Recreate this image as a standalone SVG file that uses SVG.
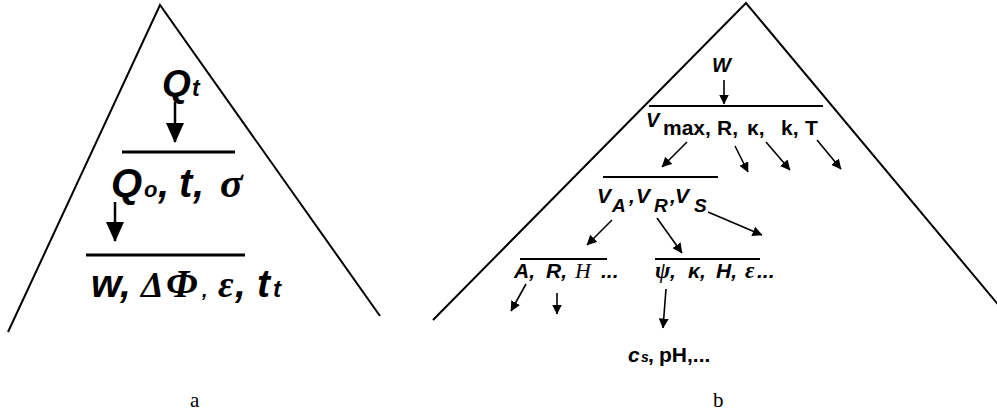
<svg xmlns="http://www.w3.org/2000/svg" width="997" height="416" viewBox="0 0 997 416">
<defs>
<style>
.ln{stroke:#000;fill:none;stroke-width:2}
.bar{stroke:#000;stroke-width:3}
.bar2{stroke:#000;stroke-width:2}
.big{stroke:#000;stroke-width:2.5;fill:none;marker-end:url(#hb)}
.sm{stroke:#000;stroke-width:1.6;fill:none;marker-end:url(#hs)}
.t{font-family:"Liberation Sans",Arial,sans-serif;font-weight:bold;font-style:italic;fill:#000}
.s{font-family:"Liberation Serif","Times New Roman",serif;font-style:italic;fill:#000}
.u{font-family:"Liberation Sans",Arial,sans-serif;font-weight:bold;fill:#000}
.cap{font-family:"Liberation Serif","Times New Roman",serif;font-size:21px;fill:#000}
</style>
<marker id="hb" viewBox="0 0 20 18" refX="19" refY="9" markerWidth="20" markerHeight="18" markerUnits="userSpaceOnUse" orient="auto">
<path d="M0,0 L20,9 L0,18 z" fill="#000"/>
</marker>
<marker id="hs" viewBox="0 0 10 10" refX="9.5" refY="5" markerWidth="10" markerHeight="10" markerUnits="userSpaceOnUse" orient="auto">
<path d="M0,0 L10,5 L0,10 z" fill="#000"/>
</marker>
</defs>
<rect width="997" height="416" fill="#fff"/>

<g id="triangleA">
<polyline class="ln" points="8,332 160,5 380,316"/>
</g>
<g id="triangleB">
<polyline class="ln" points="433,320 746,3 1001,308"/>
</g>

<g id="connectors">
<line class="big" x1="175" y1="102" x2="175" y2="142"/>
<line class="big" x1="115" y1="202" x2="115" y2="241"/>
<line class="sm" x1="724" y1="80" x2="724" y2="104"/>
<line class="sm" x1="687" y1="142" x2="662" y2="167"/>
<line class="sm" x1="735" y1="146" x2="748" y2="172"/>
<line class="sm" x1="766" y1="142" x2="790" y2="170"/>
<line class="sm" x1="817" y1="140" x2="841" y2="169"/>
<line class="sm" x1="612" y1="220" x2="587" y2="245"/>
<line class="sm" x1="657" y1="218" x2="682" y2="253"/>
<line class="sm" x1="708" y1="212" x2="762" y2="235"/>
<line class="sm" x1="526" y1="284" x2="511" y2="311"/>
<line class="sm" x1="557" y1="293" x2="557" y2="314"/>
<line class="sm" x1="666" y1="289" x2="663" y2="328"/>
</g>

<g id="nodeQt">
<text class="t" y="96" font-size="37"><tspan x="162">Q</tspan><tspan x="192" font-size="23">t</tspan></text>
</g>
<g id="nodeQo">
<line class="bar" x1="122" y1="152" x2="235" y2="152"/>
<text class="t" y="197" font-size="40"><tspan x="111">Q</tspan><tspan x="144" font-size="22">o</tspan><tspan x="158">,</tspan><tspan x="179">t</tspan><tspan x="193">,</tspan><tspan x="220" class="s" font-weight="bold" font-size="42">σ</tspan></text>
</g>
<g id="nodeW">
<line class="bar" x1="86" y1="255" x2="245" y2="255"/>
<text class="t" y="297" font-size="39"><tspan x="91">w</tspan><tspan x="120">,</tspan><tspan x="141" class="s" font-size="36">Δ</tspan><tspan x="166" class="s" font-size="40">Φ</tspan><tspan x="202" font-size="20">,</tspan><tspan x="218" class="s" font-size="38">ε</tspan><tspan x="235">,</tspan><tspan x="257">t</tspan><tspan x="273" font-size="24">t</tspan></text>
</g>
<g id="labelA">
<text class="cap" x="190" y="407">a</text>
</g>

<g id="nodeWb">
<text class="t" x="712" y="72" font-size="20">W</text>
</g>
<g id="nodeVmax">
<line class="bar2" x1="649" y1="106" x2="823" y2="106"/>
<text class="t" x="646" y="127" font-size="20">V</text>
<text class="u" y="135" font-size="21"><tspan x="663">max,</tspan><tspan x="717">R,</tspan><tspan x="747">κ,</tspan><tspan x="781">k,</tspan><tspan x="805">T</tspan></text>
</g>
<g id="nodeVA">
<line class="bar2" x1="603" y1="177" x2="718" y2="177"/>
<text class="t" font-weight="normal" font-size="21"><tspan x="597" y="203">V</tspan><tspan x="612" y="212" font-size="19">A</tspan><tspan x="629" y="203">,</tspan><tspan x="636" y="203">V</tspan><tspan x="654" y="212" font-size="19">R</tspan><tspan x="670" y="203">,</tspan><tspan x="675" y="203">V</tspan><tspan x="694" y="212" font-size="19">S</tspan></text>
</g>
<g id="nodeARH">
<line class="bar2" x1="520" y1="259" x2="607" y2="259"/>
<text class="t" y="278" font-size="21"><tspan x="514">A,</tspan><tspan x="546">R,</tspan><tspan x="575" class="s" font-weight="normal" font-size="22">H</tspan><tspan x="601">...</tspan></text>
</g>
<g id="nodePsi">
<line class="bar2" x1="655" y1="259" x2="760" y2="259"/>
<text class="t" y="278" font-size="21"><tspan x="655" class="s" font-size="23">ψ</tspan><tspan x="670">,</tspan><tspan x="688">κ,</tspan><tspan x="716">H,</tspan><tspan x="745" class="s" font-size="23">ε</tspan><tspan x="757">...</tspan></text>
</g>
<g id="nodeCs">
<text class="u" y="362" font-size="21"><tspan x="628" font-style="italic">c</tspan><tspan x="641" font-size="14" font-style="italic">s</tspan><tspan x="648">,</tspan><tspan x="659">pH,...</tspan></text>
</g>
<g id="labelB">
<text class="cap" x="713" y="407">b</text>
</g>
</svg>
